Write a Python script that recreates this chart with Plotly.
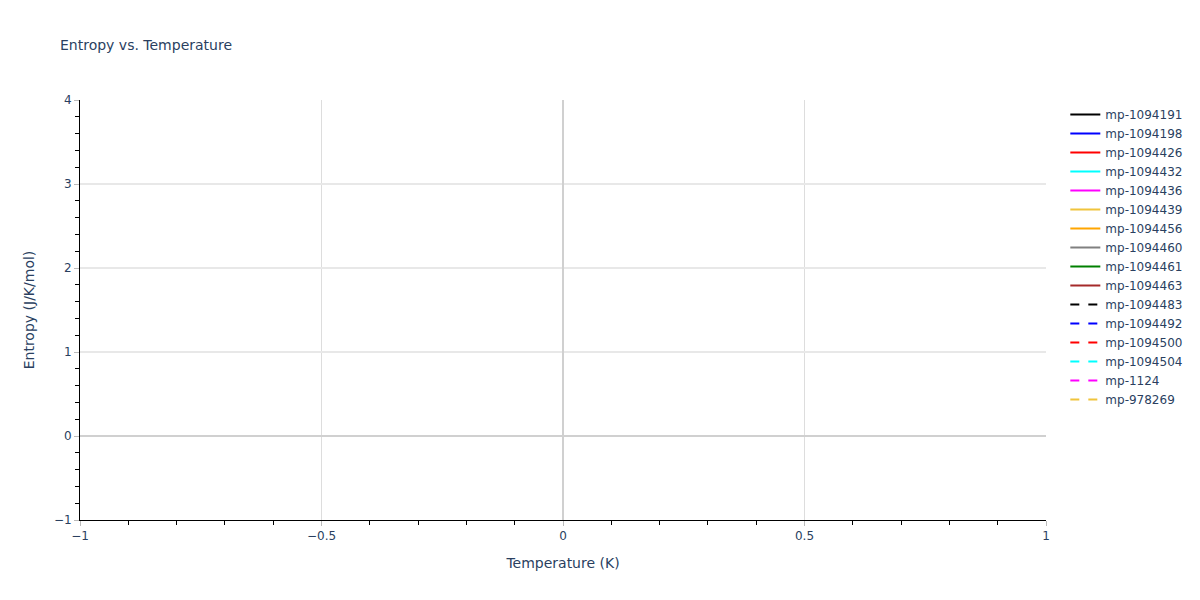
import plotly.graph_objects as go

# materials ids shown in the legend; the traces carry no real data points
materials = ["mp-1094191", "mp-1094198", "mp-1094426", "mp-1094432",
             "mp-1094436", "mp-1094439", "mp-1094456", "mp-1094460",
             "mp-1094461", "mp-1094463", "mp-1094483", "mp-1094492",
             "mp-1094500", "mp-1094504", "mp-1124", "mp-978269"]
temperature = [0]
entropy = [None]

colors = ["black", "blue", "red", "cyan", "magenta", "#f0c43c",
          "orange", "gray", "green", "brown"]

fig = go.Figure()
for i, name in enumerate(materials):
    fig.add_trace(go.Scatter(
        x=temperature, y=entropy, mode="lines", name=name,
        line=dict(color=colors[i % len(colors)], width=2,
                  dash="solid" if i < len(colors) else "dash")))

axis_style = dict(showline=True, linecolor="black", linewidth=1,
                  ticks="outside", tickcolor="#bbb", ticklen=5,
                  showgrid=True, gridcolor="#e8e8e8", gridwidth=1.5,
                  zeroline=True, zerolinecolor="#d0d0d0", zerolinewidth=2,
                  minor=dict(ticks="outside", ticklen=4, tickcolor="black",
                             showgrid=False))

fig.update_layout(
    title=dict(text="Entropy vs. Temperature", x=0.05, font=dict(size=14)),
    width=1200, height=600,
    margin=dict(l=80, t=100, b=80),
    plot_bgcolor="white", paper_bgcolor="white",
    font=dict(family="Verdana, DejaVu Sans", color="#2a3f5f", size=12),
    xaxis=dict(title="Temperature (K)", range=[-1, 1], dtick=0.5,
               **axis_style),
    yaxis=dict(title="Entropy (J/K/mol)", range=[-1, 4], dtick=1,
               **axis_style),
    showlegend=True,
    legend=dict(bgcolor="rgba(0,0,0,0)"),
)
fig.update_xaxes(gridcolor="#dddddd", gridwidth=1, minor_dtick=0.1)
fig.update_yaxes(minor_dtick=0.2)

fig.write_html("out.html", config={"displayModeBar": False},
               post_script="document.body.style.margin='0';")
